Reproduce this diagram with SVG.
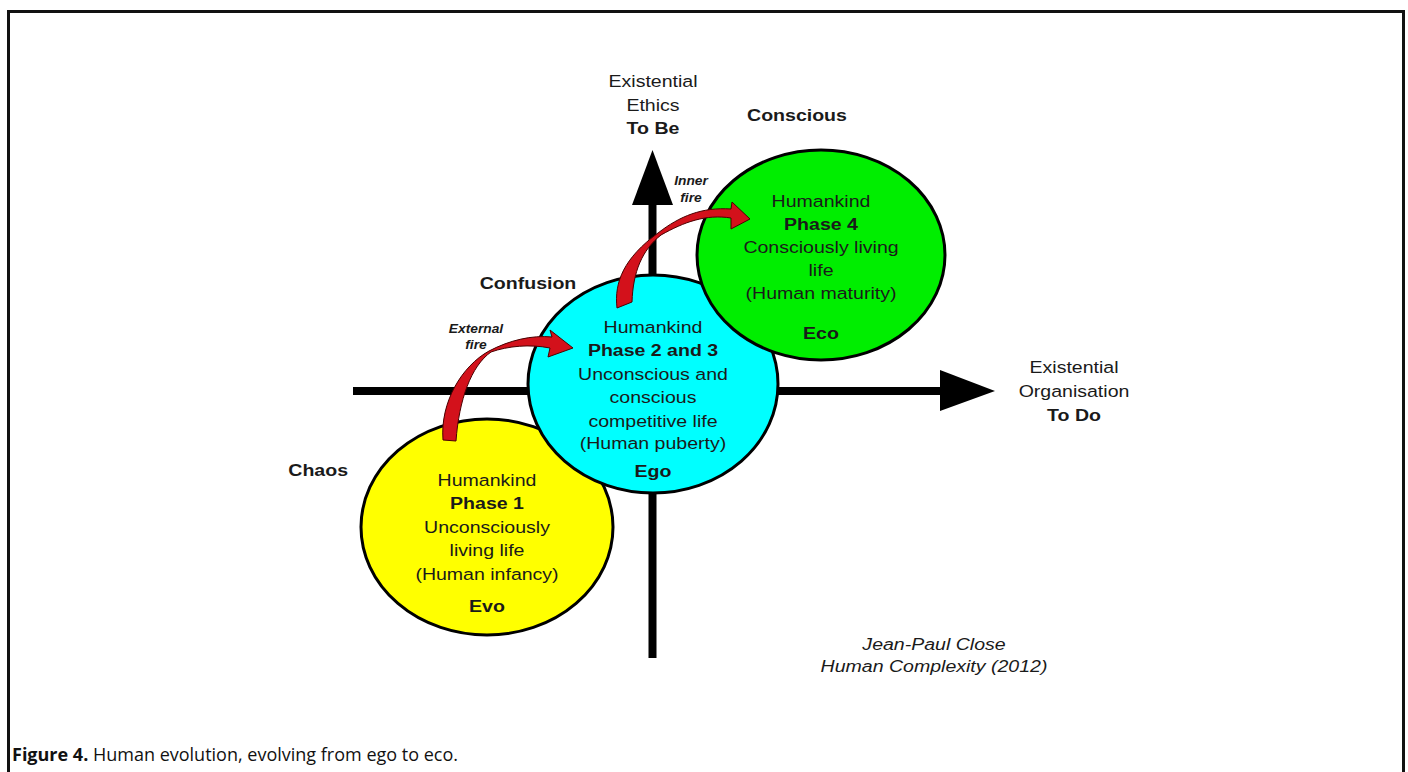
<svg xmlns="http://www.w3.org/2000/svg" width="1408" height="772" viewBox="0 0 1408 772">
<style>
.t{font-family:"Liberation Sans",Arial,sans-serif;font-size:17px;fill:#1a1a1a;text-anchor:middle}
.b{font-weight:bold}
.i{font-style:italic}
.s{font-size:12px;font-weight:bold;font-style:italic}
.node{stroke:#000;stroke-width:3}
.axis{fill:#000}
.fire{fill:#d3111b;stroke:#4a0000;stroke-width:1;stroke-linejoin:round}
.cap{font-family:"Open Sans","Noto Sans",sans-serif;font-size:18px;fill:#111}
</style>
<rect width="1408" height="772" fill="#fff"/>
<path d="M8.5 772 V11.5 H1403.5 V772" fill="none" stroke="#111" stroke-width="3"/>
<g id="axes">
<rect class="axis" x="353" y="387" width="590" height="8"/>
<polygon class="axis" points="940,370 995,391 940,411"/>
<rect class="axis" x="648.5" y="200" width="8" height="458"/>
<polygon class="axis" points="632,205 652.5,150 673,205"/>
</g>
<g id="node-phase1">
<ellipse class="node" cx="487" cy="527" rx="126" ry="108" fill="#ffff00"/>
<text class="t" transform="matrix(1.15 0 0 1 487 0)"><tspan x="0" y="486">Humankind</tspan><tspan x="0" y="509" class="b">Phase 1</tspan><tspan x="0" y="533">Unconsciously</tspan><tspan x="0" y="556">living life</tspan><tspan x="0" y="580">(Human infancy)</tspan><tspan x="0" y="612" class="b">Evo</tspan></text>
</g>
<g id="node-phase23">
<ellipse class="node" cx="653" cy="384" rx="125" ry="109" fill="#00ffff"/>
<text class="t" transform="matrix(1.15 0 0 1 653 0)"><tspan x="0" y="333">Humankind</tspan><tspan x="0" y="356" class="b">Phase 2 and 3</tspan><tspan x="0" y="380">Unconscious and</tspan><tspan x="0" y="403">conscious</tspan><tspan x="0" y="427">competitive life</tspan><tspan x="0" y="449">(Human puberty)</tspan><tspan x="0" y="477" class="b">Ego</tspan></text>
</g>
<g id="node-phase4">
<ellipse class="node" cx="821" cy="255" rx="124" ry="105" fill="#00ee00"/>
<text class="t" transform="matrix(1.15 0 0 1 821 0)"><tspan x="0" y="207">Humankind</tspan><tspan x="0" y="230" class="b">Phase 4</tspan><tspan x="0" y="253">Consciously living</tspan><tspan x="0" y="276">life</tspan><tspan x="0" y="299">(Human maturity)</tspan><tspan x="0" y="339" class="b">Eco</tspan></text>
</g>
<g id="connectors">
<path class="fire" d="M443 440 C440 402 462 366 489 351 C510 340 532 335 552 337 L550 330 L573 348 L548 357 L550 348 C530 344 508 346 491 352 C471 366 459 400 456 441 Z"/>
<path class="fire" d="M617 308 C614 282 624 258 658 233 C680 216 702 207 731 209 L732 202 L750 219 L731 229 L731 218 C706 214 684 222 661 235 C642 250 633 272 632 302 Z"/>
</g>
<g id="labels">
<text class="t" transform="matrix(1.15 0 0 1 653 0)"><tspan x="0" y="87">Existential</tspan><tspan x="0" y="111">Ethics</tspan><tspan x="0" y="134" class="b">To Be</tspan></text>
<text class="t b" transform="matrix(1.15 0 0 1 797 0)" y="121">Conscious</text>
<text class="t b" transform="matrix(1.15 0 0 1 528 0)" y="289">Confusion</text>
<text class="t b" transform="matrix(1.15 0 0 1 348 0)" y="476" style="text-anchor:end">Chaos</text>
<text class="t s" transform="matrix(1.15 0 0 1 691 0)"><tspan x="0" y="185">Inner</tspan><tspan x="0" y="202">fire</tspan></text>
<text class="t s" transform="matrix(1.15 0 0 1 476 0)"><tspan x="0" y="333">External</tspan><tspan x="0" y="349">fire</tspan></text>
<text class="t" transform="matrix(1.15 0 0 1 1074 0)"><tspan x="0" y="373">Existential</tspan><tspan x="0" y="397">Organisation</tspan><tspan x="0" y="421" class="b">To Do</tspan></text>
<text class="t i" transform="matrix(1.15 0 0 1 934 0)"><tspan x="0" y="650">Jean-Paul Close</tspan><tspan x="0" y="672">Human Complexity (2012)</tspan></text>
</g>
<text class="cap" x="12" y="761"><tspan font-weight="bold">Figure 4.</tspan> Human evolution, evolving from ego to eco.</text>
</svg>
